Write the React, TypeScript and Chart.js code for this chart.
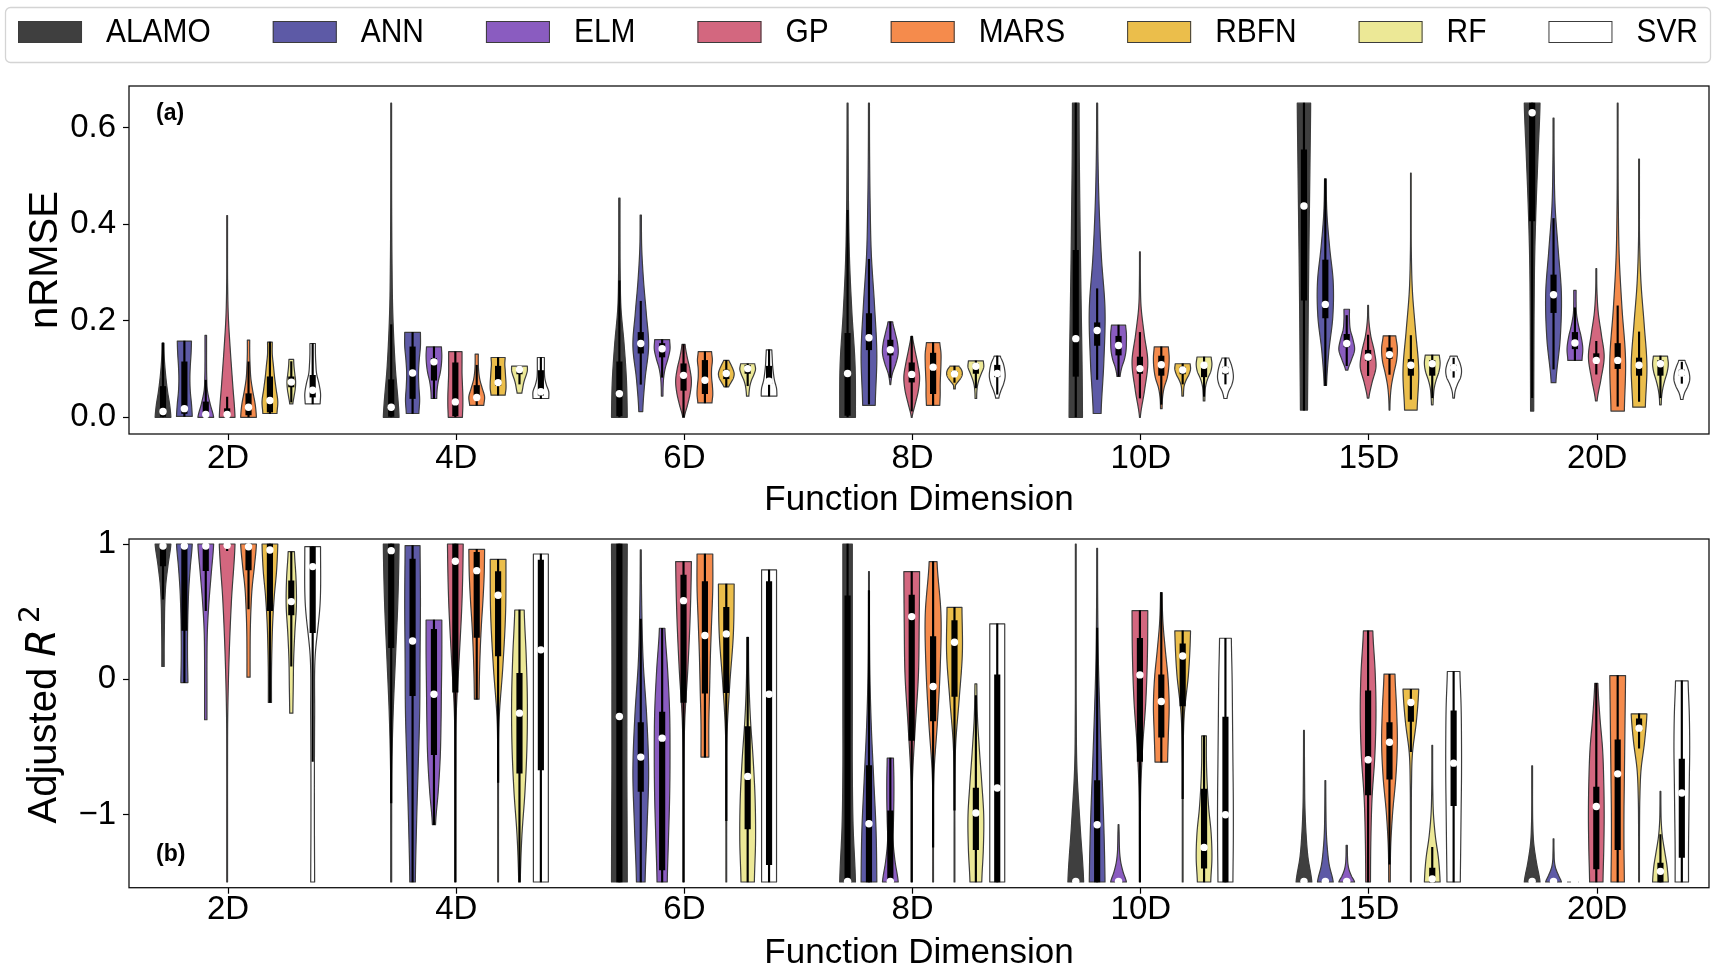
import React, { useEffect, useRef } from "react";
import { Chart, registerables } from "chart.js";

Chart.register(...registerables);

const FONT = "'Liberation Sans', Arial, Helvetica, sans-serif";
Chart.defaults.font.family = FONT;
Chart.defaults.color = "#000";

const dims = ["2D", "4D", "6D", "8D", "10D", "15D", "20D"];
const methods = ["ALAMO", "ANN", "ELM", "GP", "MARS", "RBFN", "RF", "SVR"];
const colors = ["#3f3f3f", "#5d5aa6", "#8a5cc0", "#d3677f", "#f58b4c", "#ebbe4b", "#ece896", "#ffffff"];
const nrmseTicks = [0, 0.2, 0.4, 0.6];
const r2Ticks = [-1, 0, 1];
const nrmseRange = [-0.0345, 0.6865];
const r2Range = [-1.542, 1.037];
const xRange = [-0.434, 6.49];

// each violin: [min, q1, median, q3, max, relative width profile from min to max (7 values)]
const nrmseALAMO = [
  [0, 0.002, 0.012, 0.064, 0.154, 1.0, 0.85, 0.6, 0.4, 0.25, 0.15, 0.12],
  [0, 0.002, 0.021, 0.078, 0.651, 1.0, 0.5, 0.2, 0.1, 0.06, 0.05, 0.05],
  [0, 0.003, 0.049, 0.115, 0.454, 1.0, 0.9, 0.6, 0.2, 0.1, 0.08, 0.08],
  [0, 0.004, 0.091, 0.174, 0.651, 1.0, 0.95, 0.55, 0.25, 0.12, 0.08, 0.06],
  [0, 0.085, 0.163, 0.346, 0.651, 0.85, 0.8, 0.7, 0.6, 0.52, 0.45, 0.42],
  [0.015, 0.243, 0.438, 0.554, 0.651, 0.45, 0.5, 0.55, 0.62, 0.7, 0.78, 0.85],
  [0.013, 0.407, 0.631, 0.651, 0.651, 0.2, 0.22, 0.25, 0.32, 0.5, 0.75, 1.0],
];
const nrmseANN = [
  [0.002, 0.008, 0.018, 0.115, 0.158, 1.0, 0.9, 0.75, 0.7, 0.75, 0.85, 0.9],
  [0.008, 0.039, 0.092, 0.146, 0.176, 0.8, 0.9, 0.8, 0.75, 0.85, 1.0, 1.0],
  [0.012, 0.133, 0.153, 0.176, 0.419, 0.25, 0.55, 1.0, 0.7, 0.35, 0.12, 0.08],
  [0.025, 0.14, 0.165, 0.215, 0.651, 0.8, 1.0, 0.7, 0.3, 0.15, 0.08, 0.06],
  [0.008, 0.149, 0.18, 0.196, 0.651, 0.5, 0.85, 1.0, 0.55, 0.25, 0.1, 0.06],
  [0.066, 0.206, 0.234, 0.326, 0.494, 0.15, 0.45, 0.95, 1.0, 0.55, 0.2, 0.1],
  [0.072, 0.217, 0.254, 0.295, 0.62, 0.3, 0.85, 1.0, 0.6, 0.2, 0.08, 0.06],
];
const nrmseELM = [
  [0, 0.002, 0.006, 0.032, 0.17, 1.0, 0.55, 0.2, 0.12, 0.1, 0.1, 0.1],
  [0.039, 0.077, 0.115, 0.122, 0.146, 0.35, 0.4, 0.55, 0.8, 0.95, 1.0, 0.95],
  [0.044, 0.125, 0.142, 0.153, 0.161, 0.1, 0.12, 0.2, 0.4, 0.75, 1.0, 0.95],
  [0.068, 0.129, 0.14, 0.16, 0.198, 0.05, 0.25, 0.7, 1.0, 0.9, 0.6, 0.3],
  [0.085, 0.129, 0.149, 0.168, 0.191, 0.2, 0.4, 0.75, 0.95, 1.0, 1.0, 0.9],
  [0.098, 0.146, 0.153, 0.172, 0.224, 0.15, 0.6, 1.0, 0.8, 0.45, 0.35, 0.35],
  [0.118, 0.142, 0.154, 0.176, 0.263, 0.9, 1.0, 0.8, 0.45, 0.2, 0.15, 0.15],
];
const nrmseGP = [
  [0, 0.002, 0.006, 0.018, 0.418, 1.0, 0.7, 0.4, 0.15, 0.06, 0.05, 0.05],
  [0, 0.003, 0.032, 0.113, 0.136, 0.9, 0.95, 0.95, 0.9, 0.85, 0.85, 0.85],
  [0, 0.056, 0.087, 0.111, 0.151, 0.1, 0.5, 0.85, 1.0, 0.8, 0.45, 0.2],
  [0, 0.073, 0.089, 0.113, 0.168, 0.05, 0.45, 0.85, 1.0, 0.75, 0.4, 0.1],
  [0, 0.091, 0.101, 0.125, 0.343, 0.05, 0.6, 1.0, 0.55, 0.15, 0.06, 0.05],
  [0.04, 0.118, 0.125, 0.139, 0.232, 0.1, 0.5, 1.0, 0.8, 0.35, 0.1, 0.05],
  [0.034, 0.115, 0.118, 0.132, 0.308, 0.1, 0.6, 1.0, 0.65, 0.25, 0.08, 0.05],
];
const nrmseMARS = [
  [0, 0.005, 0.021, 0.049, 0.16, 1.0, 0.85, 0.55, 0.3, 0.2, 0.15, 0.15],
  [0.025, 0.038, 0.041, 0.066, 0.131, 0.9, 1.0, 0.7, 0.4, 0.25, 0.2, 0.2],
  [0.03, 0.049, 0.077, 0.118, 0.136, 0.9, 1.0, 0.95, 0.85, 0.85, 0.95, 0.85],
  [0.025, 0.049, 0.104, 0.133, 0.155, 0.85, 0.9, 0.9, 0.95, 1.0, 1.0, 0.85],
  [0.018, 0.087, 0.109, 0.127, 0.146, 0.1, 0.15, 0.35, 0.75, 0.95, 1.0, 0.9],
  [0.015, 0.122, 0.13, 0.144, 0.169, 0.05, 0.1, 0.25, 0.55, 0.9, 1.0, 0.8],
  [0.013, 0.101, 0.118, 0.153, 0.651, 0.85, 1.0, 0.55, 0.2, 0.08, 0.05, 0.05],
];
const nrmseRBFN = [
  [0.008, 0.011, 0.035, 0.084, 0.156, 0.9, 1.0, 0.8, 0.6, 0.45, 0.3, 0.3],
  [0.046, 0.066, 0.072, 0.106, 0.124, 0.9, 1.0, 1.0, 0.95, 0.9, 0.85, 0.9],
  [0.063, 0.08, 0.091, 0.098, 0.118, 0.3, 0.6, 0.9, 1.0, 0.85, 0.6, 0.35],
  [0.059, 0.086, 0.09, 0.095, 0.106, 0.1, 0.15, 0.5, 0.85, 1.0, 0.9, 0.6],
  [0.044, 0.09, 0.098, 0.104, 0.111, 0.1, 0.12, 0.2, 0.45, 0.8, 1.0, 0.95],
  [0.015, 0.087, 0.108, 0.12, 0.506, 0.8, 1.0, 0.6, 0.2, 0.06, 0.04, 0.04],
  [0.021, 0.087, 0.108, 0.123, 0.535, 0.8, 1.0, 0.65, 0.25, 0.07, 0.05, 0.05],
];
const nrmseRF = [
  [0.028, 0.063, 0.073, 0.084, 0.12, 0.2, 0.35, 0.5, 0.55, 0.45, 0.35, 0.3],
  [0.05, 0.09, 0.099, 0.104, 0.106, 0.3, 0.4, 0.5, 0.65, 0.85, 1.0, 1.0],
  [0.044, 0.091, 0.101, 0.108, 0.111, 0.15, 0.2, 0.3, 0.5, 0.8, 1.0, 0.9],
  [0.039, 0.091, 0.106, 0.111, 0.117, 0.1, 0.12, 0.2, 0.4, 0.7, 1.0, 0.95],
  [0.034, 0.084, 0.108, 0.111, 0.125, 0.1, 0.12, 0.2, 0.45, 0.85, 1.0, 0.9],
  [0.026, 0.087, 0.111, 0.118, 0.129, 0.1, 0.15, 0.25, 0.5, 0.85, 1.0, 0.9],
  [0.026, 0.087, 0.111, 0.118, 0.127, 0.1, 0.15, 0.3, 0.55, 0.85, 1.0, 0.9],
];
const nrmseSVR = [
  [0.028, 0.042, 0.056, 0.087, 0.153, 0.95, 1.0, 0.8, 0.5, 0.4, 0.35, 0.35],
  [0.039, 0.046, 0.053, 0.097, 0.124, 1.0, 1.0, 0.7, 0.5, 0.45, 0.45, 0.45],
  [0.044, 0.07, 0.075, 0.106, 0.14, 1.0, 0.95, 0.7, 0.55, 0.45, 0.4, 0.35],
  [0.04, 0.084, 0.091, 0.108, 0.127, 0.2, 0.45, 0.8, 1.0, 0.95, 0.75, 0.4],
  [0.039, 0.09, 0.098, 0.104, 0.123, 0.2, 0.4, 0.8, 1.0, 0.95, 0.75, 0.45],
  [0.04, 0.098, 0.103, 0.108, 0.127, 0.1, 0.2, 0.5, 0.9, 1.0, 0.8, 0.45],
  [0.037, 0.087, 0.092, 0.098, 0.118, 0.15, 0.35, 0.75, 1.0, 0.95, 0.7, 0.4],
];

const r2ALAMO = [
  [0.094, 0.837, 0.985, 1.0, 1.0, 0.15, 0.15, 0.18, 0.22, 0.35, 0.65, 1.0],
  [-1.5, 0.234, 0.951, 1.0, 1.0, 0.06, 0.06, 0.08, 0.25, 0.55, 0.85, 1.0],
  [-1.5, -1.5, -0.276, 1.0, 1.0, 1.0, 0.98, 0.95, 0.95, 0.95, 0.97, 1.0],
  [-1.5, -1.5, -1.495, 0.616, 1.0, 1.0, 0.7, 0.6, 0.6, 0.6, 0.6, 0.6],
  [-1.5, -1.5, -1.495, -1.5, 1.0, 1.0, 0.55, 0.15, 0.06, 0.05, 0.05, 0.05],
  [-1.5, -1.5, -1.495, -1.5, -0.379, 1.0, 0.5, 0.25, 0.12, 0.08, 0.06, 0.05],
  [-1.5, -1.5, -1.495, -1.5, -0.64, 1.0, 0.55, 0.2, 0.08, 0.05, 0.05, 0.05],
];
const r2ANN = [
  [-0.025, 0.36, 0.985, 1.0, 1.0, 0.45, 0.4, 0.4, 0.45, 0.55, 0.75, 1.0],
  [-1.5, -0.121, 0.283, 0.889, 0.988, 0.35, 0.5, 0.7, 0.9, 0.95, 1.0, 0.95],
  [-1.5, -0.83, -0.576, -0.32, 0.956, 0.55, 0.8, 1.0, 0.75, 0.3, 0.12, 0.06],
  [-1.5, -1.5, -1.069, -0.638, 0.796, 1.0, 0.9, 0.6, 0.3, 0.12, 0.06, 0.05],
  [-1.5, -1.5, -1.076, -0.749, 0.968, 1.0, 0.85, 0.6, 0.35, 0.15, 0.07, 0.05],
  [-1.5, -1.5, -1.495, -1.5, -0.749, 1.0, 0.5, 0.25, 0.12, 0.08, 0.06, 0.05],
  [-1.5, -1.5, -1.495, -1.5, -1.18, 1.0, 0.6, 0.25, 0.1, 0.07, 0.05, 0.05],
];
const r2ELM = [
  [-0.3, 0.803, 0.985, 1.0, 1.0, 0.15, 0.15, 0.15, 0.2, 0.4, 0.7, 1.0],
  [-1.076, -0.559, -0.111, 0.369, 0.438, 0.2, 0.55, 0.8, 0.9, 0.95, 1.0, 1.0],
  [-1.5, -1.41, -0.436, -0.244, 0.377, 0.65, 0.8, 0.95, 1.0, 0.95, 0.7, 0.35],
  [-1.5, -1.5, -1.495, -0.973, -0.584, 1.0, 0.6, 0.35, 0.4, 0.45, 0.45, 0.4],
  [-1.5, -1.5, -1.495, -1.5, -1.076, 1.0, 0.6, 0.3, 0.15, 0.1, 0.08, 0.05],
  [-1.5, -1.5, -1.495, -1.5, -1.229, 1.0, 0.6, 0.3, 0.15, 0.1, 0.08, 0.08],
  [-1.5, -1.5, -1.5, -1.5, -1.5, 1.0, 1.0, 1.0, 1.0, 1.0, 1.0, 1.0],
];
const r2GP = [
  [-1.5, 0.98, 0.99, 1.0, 1.0, 0.05, 0.05, 0.05, 0.08, 0.25, 0.55, 1.0],
  [-1.5, -0.096, 0.872, 1.0, 1.0, 0.05, 0.05, 0.06, 0.12, 0.5, 0.85, 1.0],
  [-1.5, -0.172, 0.581, 0.771, 0.87, 0.05, 0.05, 0.06, 0.15, 0.55, 0.85, 1.0],
  [-1.5, -0.453, 0.463, 0.623, 0.796, 0.05, 0.06, 0.1, 0.45, 0.85, 0.95, 1.0],
  [-1.5, -0.608, 0.032, 0.303, 0.507, 0.05, 0.06, 0.1, 0.35, 0.75, 0.95, 1.0],
  [-1.5, -0.855, -0.596, -0.086, 0.357, 0.3, 0.35, 0.5, 0.85, 1.0, 0.9, 0.6],
  [-1.5, -1.404, -0.941, -0.798, -0.03, 0.85, 0.95, 1.0, 0.95, 0.8, 0.45, 0.2],
];
const r2MARS = [
  [0.015, 0.808, 0.98, 1.0, 1.0, 0.2, 0.2, 0.22, 0.3, 0.45, 0.75, 1.0],
  [-0.148, 0.31, 0.803, 0.938, 0.961, 0.3, 0.35, 0.45, 0.6, 0.8, 0.95, 1.0],
  [-0.576, -0.103, 0.323, 0.722, 0.926, 0.5, 0.5, 0.6, 0.7, 0.85, 1.0, 1.0],
  [-1.5, -0.308, -0.054, 0.315, 0.87, 0.05, 0.05, 0.1, 0.55, 0.9, 1.0, 0.5],
  [-0.613, -0.429, -0.165, 0.032, 0.64, 0.8, 0.9, 1.0, 0.85, 0.5, 0.2, 0.1],
  [-1.5, -0.739, -0.466, -0.32, 0.037, 0.1, 0.15, 0.4, 0.8, 1.0, 0.9, 0.7],
  [-1.5, -1.261, -0.7, -0.448, 0.027, 0.85, 0.8, 0.8, 0.85, 0.9, 0.95, 1.0],
];
const r2RBFN = [
  [-0.172, 0.507, 0.956, 1.0, 1.0, 0.2, 0.2, 0.25, 0.35, 0.55, 0.85, 1.0],
  [-1.5, 0.172, 0.621, 0.796, 0.887, 0.05, 0.05, 0.06, 0.12, 0.6, 0.95, 1.0],
  [-1.5, -0.099, 0.335, 0.532, 0.704, 0.05, 0.05, 0.06, 0.1, 0.45, 0.9, 1.0],
  [-1.5, -0.128, 0.273, 0.433, 0.532, 0.05, 0.05, 0.05, 0.15, 0.6, 1.0, 0.95],
  [-1.5, -0.197, 0.172, 0.261, 0.357, 0.05, 0.05, 0.05, 0.06, 0.2, 0.75, 1.0],
  [-1.5, -0.313, -0.172, -0.165, -0.074, 0.05, 0.05, 0.06, 0.08, 0.2, 0.7, 1.0],
  [-1.5, -0.38, -0.362, -0.293, -0.256, 0.05, 0.05, 0.06, 0.1, 0.25, 0.7, 1.0],
];
const r2RF = [
  [-0.251, 0.475, 0.574, 0.727, 0.943, 0.2, 0.25, 0.3, 0.45, 0.65, 0.6, 0.4],
  [-1.5, -0.695, -0.251, 0.044, 0.512, 0.1, 0.3, 0.7, 0.95, 1.0, 0.85, 0.6],
  [-1.5, -1.108, -0.719, -0.35, 0.31, 0.85, 1.0, 0.95, 0.7, 0.35, 0.15, 0.1],
  [-1.5, -1.261, -0.99, -0.805, -0.034, 0.75, 0.95, 1.0, 0.75, 0.45, 0.2, 0.12],
  [-1.5, -1.397, -1.244, -0.813, -0.419, 0.85, 1.0, 0.9, 0.6, 0.4, 0.3, 0.3],
  [-1.5, -1.5, -1.478, -1.397, -0.49, 1.0, 0.8, 0.4, 0.15, 0.07, 0.05, 0.05],
  [-1.5, -1.5, -1.421, -1.36, -0.83, 1.0, 0.85, 0.55, 0.25, 0.1, 0.06, 0.05],
];
const r2SVR = [
  [-1.5, 0.345, 0.833, 0.98, 0.98, 0.25, 0.22, 0.22, 0.25, 0.3, 0.95, 1.0],
  [-1.5, -0.67, 0.217, 0.882, 0.926, 0.95, 0.95, 0.95, 0.95, 0.95, 0.95, 0.95],
  [-1.5, -1.372, -0.111, 0.722, 0.808, 0.95, 0.95, 0.95, 0.95, 0.95, 0.95, 0.95],
  [-1.5, -1.5, -0.805, 0.032, 0.409, 0.95, 0.95, 0.95, 0.95, 0.95, 0.95, 0.95],
  [-1.5, -1.5, -1.002, -0.281, 0.303, 0.95, 1.0, 1.0, 0.95, 0.9, 0.85, 0.75],
  [-1.5, -0.936, -0.621, -0.234, 0.057, 0.85, 0.9, 0.95, 1.0, 1.0, 0.95, 0.8],
  [-1.5, -1.318, -0.842, -0.591, -0.012, 0.85, 0.85, 0.9, 0.95, 1.0, 0.95, 0.8],
];

const nrmseData = [nrmseALAMO, nrmseANN, nrmseELM, nrmseGP, nrmseMARS, nrmseRBFN, nrmseRF, nrmseSVR];
const r2Data = [r2ALAMO, r2ANN, r2ELM, r2GP, r2MARS, r2RBFN, r2RF, r2SVR];

// layout constants (positions within each dimension group)
const OFFSETS = methods.map((_, k) => -0.285 + 0.0937 * k);
const HALF = 0.0345;
const EDGE = "#3c3c3c";
const W = 1715;

function catmull(p: number[], t: number) {
  const n = p.length - 1;
  const s = Math.min(Math.max(t, 0), 1) * n;
  const i = Math.min(Math.floor(s), n - 1);
  const u = s - i;
  const p0 = p[Math.max(i - 1, 0)], p1 = p[i], p2 = p[i + 1], p3 = p[Math.min(i + 2, n)];
  return 0.5 * (2 * p1 + (-p0 + p2) * u + (2 * p0 - 5 * p1 + 4 * p2 - p3) * u * u + (-p0 + 3 * p1 - 3 * p2 + p3) * u * u * u);
}

function violinPlugin(data: number[][][]) {
  return {
    id: "violins",
    beforeDatasetsDraw(chart: any) {
      const { ctx, chartArea: a, scales } = chart;
      const xs = scales.x, ys = scales.y;
      const hw = xs.getPixelForValue(HALF) - xs.getPixelForValue(0);
      ctx.save();
      ctx.beginPath();
      ctx.rect(a.left, a.top, a.right - a.left, a.bottom - a.top);
      ctx.clip();
      data.forEach((rows, k) => {
        rows.forEach((v, i) => {
          const cx = xs.getPixelForValue(i + OFFSETS[k]);
          const mn = v[0], mx = v[4], prof = v.slice(5);
          if (mx - mn < 1e-9) {
            const py = ys.getPixelForValue(mn);
            ctx.setLineDash([4, 4]);
            ctx.strokeStyle = "#9a9a9a";
            ctx.lineWidth = 1.5;
            ctx.beginPath();
            ctx.moveTo(cx - hw, py);
            ctx.lineTo(cx + hw, py);
            ctx.stroke();
            ctx.setLineDash([]);
            return;
          }
          const N = 90;
          const pts: number[][] = [];
          for (let j = 0; j <= N; j++) {
            const t = j / N;
            const w = Math.min(1.05, Math.max(0.04, catmull(prof, t))) * hw;
            pts.push([ys.getPixelForValue(mn + (mx - mn) * t), w]);
          }
          ctx.beginPath();
          pts.forEach(([py, w], j) => (j ? ctx.lineTo(cx - w, py) : ctx.moveTo(cx - w, py)));
          for (let j = N; j >= 0; j--) ctx.lineTo(cx + pts[j][1], pts[j][0]);
          ctx.closePath();
          ctx.fillStyle = colors[k];
          ctx.fill();
          ctx.strokeStyle = EDGE;
          ctx.lineWidth = 1.2;
          ctx.lineJoin = "round";
          ctx.stroke();
        });
      });
      ctx.restore();
    },
  };
}

const framePlugin = {
  id: "frame",
  afterDraw(chart: any) {
    const { ctx, chartArea: a } = chart;
    ctx.save();
    ctx.strokeStyle = "#111";
    ctx.lineWidth = 1.3;
    ctx.strokeRect(a.left, a.top, a.right - a.left, a.bottom - a.top);
    ctx.restore();
  },
};

function labelPlugin(text: string, dy: (a: any) => number) {
  return {
    id: "panelLabel",
    afterDraw(chart: any) {
      const { ctx, chartArea: a } = chart;
      ctx.save();
      ctx.font = `bold 23px ${FONT}`;
      ctx.fillStyle = "#000";
      ctx.textAlign = "left";
      ctx.textBaseline = "middle";
      ctx.fillText(text, a.left + 27, dy(a));
      ctx.restore();
    },
  };
}

const legendPlugin = {
  id: "legendBox",
  afterDraw(chart: any) {
    const ctx = chart.ctx;
    ctx.save();
    const squeeze = 0.88;
    ctx.font = `34px ${FONT}`;
    const sw = 64, sh = 22, gapT = 24, gapC = 62;
    const widths = methods.map((m) => ctx.measureText(m).width * squeeze);
    const total = widths.reduce((s, w) => s + sw + gapT + w, 0) + gapC * (methods.length - 1);
    const bx = 5.5, by = 7.5, bw = 1705, bh = 55;
    ctx.beginPath();
    ctx.roundRect(bx, by, bw, bh, 5);
    ctx.strokeStyle = "#d4d4d4";
    ctx.lineWidth = 1.3;
    ctx.stroke();
    let x = bx + (bw - total) / 2;
    methods.forEach((m, k) => {
      ctx.fillStyle = colors[k];
      ctx.fillRect(x, 21, sw, sh);
      ctx.strokeStyle = EDGE;
      ctx.lineWidth = 1;
      ctx.strokeRect(x + 0.5, 21.5, sw - 1, sh - 1);
      ctx.save();
      ctx.translate(x + sw + gapT, 32.5);
      ctx.scale(squeeze, 1);
      ctx.fillStyle = "#000";
      ctx.textAlign = "left";
      ctx.textBaseline = "middle";
      ctx.fillText(m, 0, 0);
      ctx.restore();
      x += sw + gapT + widths[k] + gapC;
    });
    ctx.restore();
  },
};

const r2TitlePlugin = {
  id: "r2Title",
  afterDraw(chart: any) {
    const { ctx, chartArea: a } = chart;
    ctx.save();
    ctx.translate(45, (a.top + a.bottom) / 2 + 1);
    ctx.rotate(-Math.PI / 2);
    const f1 = `40px ${FONT}`;
    const f2 = `oblique 40px 'DejaVu Sans', ${FONT}`;
    const f3 = `28px 'DejaVu Sans', ${FONT}`;
    ctx.font = f1;
    const w1 = ctx.measureText("Adjusted ").width;
    ctx.font = f2;
    const w2 = ctx.measureText("R").width;
    ctx.font = f3;
    const w3 = ctx.measureText("2").width;
    const gap = 6;
    let x = -(w1 + w2 + gap + w3) / 2;
    ctx.fillStyle = "#000";
    ctx.textBaseline = "middle";
    ctx.textAlign = "left";
    ctx.font = f1;
    ctx.fillText("Adjusted ", x, 0);
    x += w1;
    ctx.font = f2;
    ctx.fillText("R", x, 0);
    x += w2 + gap;
    ctx.font = f3;
    ctx.fillText("2", x, -13);
    ctx.restore();
  },
};

function buildDatasets(data: number[][][]) {
  const wh: any[] = [], bx: any[] = [], md: any[] = [];
  data.forEach((rows, k) =>
    rows.forEach((v, i) => {
      const [mn, q1, med, q3, mx] = v;
      const iqr = q3 - q1;
      const lo = Math.max(mn, q1 - 1.5 * iqr);
      const hi = Math.min(mx, q3 + 1.5 * iqr);
      const x = i + OFFSETS[k];
      wh.push({ x, y: [lo, hi] });
      bx.push({ x, y: [q1, q3] });
      md.push({ x, y: med });
    })
  );
  return [
    { type: "bar", label: "whiskers", data: wh, backgroundColor: "#000", barThickness: 1.5, grouped: false, order: 2 },
    { type: "bar", label: "boxes", data: bx, backgroundColor: "#000", barThickness: 5.5, grouped: false, order: 1 },
    {
      type: "scatter",
      label: "medians",
      data: md,
      pointRadius: 3.7,
      pointBackgroundColor: "#fff",
      pointBorderColor: "#fff",
      pointBorderWidth: 0,
      showLine: false,
      order: 0,
    },
  ];
}

function buildConfig(panel: "a" | "b"): any {
  const isA = panel === "a";
  const data = isA ? nrmseData : r2Data;
  const yTicks = isA ? nrmseTicks : r2Ticks;
  const yRange = isA ? nrmseRange : r2Range;
  const plugins: any[] = [violinPlugin(data), framePlugin];
  if (isA) {
    plugins.push(legendPlugin, labelPlugin("(a)", (a) => a.top + 28));
  } else {
    plugins.push(r2TitlePlugin, labelPlugin("(b)", (a) => a.bottom - 33));
  }
  return {
    type: "scatter",
    data: { datasets: buildDatasets(data) },
    plugins,
    options: {
      animation: false,
      responsive: true,
      maintainAspectRatio: false,
      devicePixelRatio: 1,
      events: [],
      layout: { padding: { top: isA ? 86 : 19, right: 6, bottom: 0, left: 0 } },
      plugins: { legend: { display: false }, tooltip: { enabled: false } },
      scales: {
        x: {
          type: "linear",
          min: xRange[0],
          max: xRange[1],
          offset: false,
          afterBuildTicks: (s: any) => {
            s.ticks = dims.map((_, i) => ({ value: i }));
          },
          afterFit: (s: any) => {
            s.height = isA ? 86 : 81.3;
          },
          ticks: {
            autoSkip: false,
            maxRotation: 0,
            padding: isA ? 2 : 0,
            font: { size: 33, lineHeight: 1 },
            color: "#000",
            callback: (v: number) => dims[Math.round(v)],
          },
          grid: { display: true, drawOnChartArea: false, drawTicks: true, tickLength: 6, tickWidth: 1.2, tickColor: "#000", offset: false },
          border: { display: false },
          title: {
            display: true,
            text: "Function Dimension",
            font: { size: 35, lineHeight: 0.9 },
            color: "#000",
            padding: { top: 0, bottom: isA ? 4.2 : 0.4 },
          },
        },
        y: {
          type: "linear",
          min: yRange[0],
          max: yRange[1],
          beginAtZero: false,
          afterBuildTicks: (s: any) => {
            s.ticks = yTicks.map((v) => ({ value: v }));
          },
          afterFit: (s: any) => {
            s.width = 129;
          },
          ticks: {
            padding: 7,
            font: { size: 33, lineHeight: 0.3 },
            color: "#000",
            callback: (v: number) => (isA ? v.toFixed(1) : v < 0 ? "\u2212" + Math.abs(v) : String(v)),
          },
          grid: { display: true, drawOnChartArea: false, drawTicks: true, tickLength: 6, tickWidth: 1.2, tickColor: "#000" },
          border: { display: false },
          title: {
            display: isA,
            text: "nRMSE",
            font: { size: 40, lineHeight: 1 },
            color: "#000",
            padding: { top: 26, bottom: 0 },
          },
        },
      },
    },
  };
}

function Panel({ panel, height }: { panel: "a" | "b"; height: number }) {
  const ref = useRef<HTMLCanvasElement>(null);
  useEffect(() => {
    const chart = new Chart(ref.current as HTMLCanvasElement, buildConfig(panel));
    return () => chart.destroy();
  }, [panel]);
  return (
    <div style={{ position: "relative", width: W, height }}>
      <canvas ref={ref} />
    </div>
  );
}

export default function App() {
  return (
    <div style={{ position: "absolute", left: 0, top: 0, width: W, height: 969, background: "#fff", overflow: "hidden" }}>
      <Panel panel="a" height={520} />
      <Panel panel="b" height={449} />
    </div>
  );
}
